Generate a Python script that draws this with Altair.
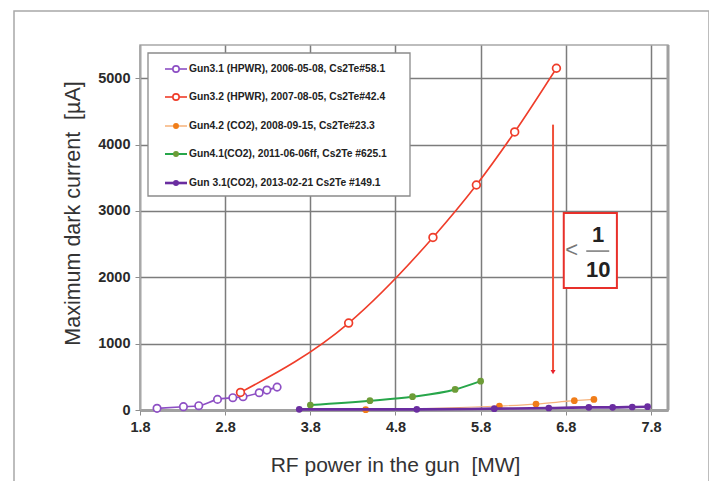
import altair as alt
import pandas as pd

# ---------------- data ----------------
labels = [
    "Gun3.1 (HPWR), 2006-05-08, Cs2Te#58.1",
    "Gun3.2 (HPWR), 2007-08-05, Cs2Te#42.4",
    "Gun4.2 (CO2), 2008-09-15, Cs2Te#23.3",
    "Gun4.1(CO2), 2011-06-06ff, Cs2Te #625.1",
    "Gun 3.1(CO2), 2013-02-21 Cs2Te #149.1",
]

x_g31_hpwr = [2.0, 2.31, 2.49, 2.71, 2.89, 3.01, 3.2, 3.29, 3.41]
y_g31_hpwr = [25, 50, 65, 160, 185, 200, 260, 300, 345]

x_g32_hpwr = [2.98, 4.25, 5.24, 5.75, 6.2, 6.69]
y_g32_hpwr = [265, 1310, 2600, 3390, 4190, 5150]

x_g42_co2 = [4.45, 6.02, 6.45, 6.9, 7.13]
y_g42_co2 = [5, 60, 90, 140, 160]

x_g41_co2 = [3.8, 4.5, 5.0, 5.5, 5.8]
y_g41_co2 = [75, 140, 200, 310, 435]

x_g31_co2 = [3.67, 5.05, 5.96, 6.6, 7.07, 7.35, 7.58, 7.76]
y_g31_co2 = [10, 10, 20, 30, 40, 40, 45, 50]

x_ticks = [1.8, 2.8, 3.8, 4.8, 5.8, 6.8, 7.8]
y_ticks = [0, 1000, 2000, 3000, 4000, 5000]

# annotation (data coordinates)
arrow_x = [6.65]
arrow_y = [4300]
arrow_y2 = [570]
box_x = [6.776]
box_x2 = [7.4]
box_y = [2967]
box_y2 = [1837]

# ---------------- styles ----------------
W, H = 528, 365
FONT = "Liberation Sans"
xs = alt.Scale(domain=[1.8, 8.0], nice=False, zero=False)
ys = alt.Scale(domain=[0, 5500], nice=False)

xaxis = alt.Axis(values=x_ticks, format=".1f", title="RF power in the gun\u00a0 [MW]",
                 grid=True, gridColor="#7c7c7c", gridWidth=1.5, gridOpacity=1,
                 domainColor="#a0a0a0", domainWidth=3, tickColor="#8c8c8c", tickSize=5,
                 labelFont=FONT, labelFontWeight="bold", labelFontSize=14.5, labelColor="#2a2a2a",
                 labelPadding=5, labelFlush=False,
                 titleFont=FONT, titleFontSize=21, titleFontWeight="normal", titleColor="#333",
                 titleX=255, titleY=55, titleBaseline="middle", titleAlign="center")
yaxis = alt.Axis(values=y_ticks, format="d", title="Maximum dark current\u00a0 [µA]",
                 grid=True, gridColor="#7c7c7c", gridWidth=1.5, gridOpacity=1,
                 domainColor="#a8a8a8", domainWidth=1.5, tickColor="#8c8c8c", tickSize=5,
                 labelFont=FONT, labelFontWeight="bold", labelFontSize=14.5, labelColor="#2a2a2a",
                 labelPadding=5, labelFlush=False,
                 titleFont=FONT, titleFontSize=21.5, titleFontWeight="normal", titleColor="#333",
                 titleAngle=270, titleX=-67, titleY=168, titleBaseline="middle", titleAlign="center")


def X(f="x"):
    return alt.X(f"{f}:Q", scale=xs, axis=xaxis)


def Y(f="y"):
    return alt.Y(f"{f}:Q", scale=ys, axis=yaxis)


styles = [
    # marker color, line color, open marker?, line width, marker size
    ("#8d4fc4", "#8d4fc4", True, 1.6, 55),
    ("#ef3d2a", "#ef3d2a", True, 1.6, 60),
    ("#f07d19", "#f6b27a", False, 1.2, 45),
    ("#6d9c37", "#27a64a", False, 2.0, 45),
    ("#6a2da0", "#6a2da0", False, 2.6, 45),
]
series_data = [
    (x_g31_hpwr, y_g31_hpwr),
    (x_g32_hpwr, y_g32_hpwr),
    (x_g42_co2, y_g42_co2),
    (x_g41_co2, y_g41_co2),
    (x_g31_co2, y_g31_co2),
]

layers = []

# outer frame
layers.append(alt.Chart().mark_rect(fillOpacity=0, stroke="#a8a8a8", strokeWidth=1.5).encode(
    x=alt.value(-126), x2=alt.value(569), y=alt.value(-34), y2=alt.value(470)))

for (xv, yv), (col, lcol, is_open, lw, sz) in zip(series_data, styles):
    df = pd.DataFrame({"x": xv, "y": yv})
    base = alt.Chart(df).encode(x=X(), y=Y())
    layers.append(base.mark_line(color=lcol, strokeWidth=lw, interpolate="monotone"))
    if is_open:
        layers.append(base.mark_point(shape="circle", size=sz, filled=True, fill="white",
                                      stroke=col, strokeWidth=1.7, opacity=1, fillOpacity=1))
    else:
        layers.append(base.mark_point(shape="circle", size=sz, filled=True, color=col, opacity=1))

# right plot border (thicker)
layers.append(alt.Chart().mark_rule(color="#a0a0a0", strokeWidth=3).encode(
    x=alt.value(W), y=alt.value(0), y2=alt.value(H)))

# arrow annotation
adf = pd.DataFrame({"x": arrow_x, "y": arrow_y, "y2": arrow_y2})
layers.append(alt.Chart(adf).mark_rule(color="#f0503a", strokeWidth=2).encode(
    x=X(), y=Y(), y2="y2:Q"))
layers.append(alt.Chart(adf).mark_point(shape="triangle-down", size=25, filled=True,
                                        color="#e8202a", opacity=1).encode(x=X(), y=Y("y2")))

# ratio box
bdf = pd.DataFrame({"x": box_x, "x2": box_x2, "y": box_y, "y2": box_y2})
layers.append(alt.Chart(bdf).mark_rect(fill="white", stroke="#e8302a", strokeWidth=2).encode(
    x=X(), x2="x2:Q", y=Y(), y2="y2:Q"))
tdf = pd.DataFrame({"x": [6.87, 7.18, 7.18], "y": [2410, 2640, 2105], "t": ["<", "1", "10"]})
layers.append(alt.Chart(tdf[tdf.t == "<"]).mark_text(font=FONT, fontSize=22, color="#777",
                                                    align="center", baseline="middle").encode(
    x=X(), y=Y(), text="t:N"))
layers.append(alt.Chart(tdf[tdf.t != "<"]).mark_text(font=FONT, fontSize=22, fontWeight="bold",
                                                    color="#222", align="center", baseline="middle").encode(
    x=X(), y=Y(), text="t:N"))
fdf = pd.DataFrame({"x": [7.04], "x2": [7.31], "y": [2395]})
layers.append(alt.Chart(fdf).mark_rule(color="#555", strokeWidth=1.2).encode(
    x=X(), x2="x2:Q", y=Y()))

# legend box
layers.append(alt.Chart().mark_rect(fill="white", stroke="#8a8a8a", strokeWidth=1.3).encode(
    x=alt.value(8), x2=alt.value(270), y=alt.value(8), y2=alt.value(151)))
row_y = [24, 52, 81, 109, 138]
for lab, ry, (col, lcol, is_open, lw, sz) in zip(labels, row_y, styles):
    layers.append(alt.Chart().mark_rule(color=lcol, strokeWidth=max(lw, 1.5)).encode(
        x=alt.value(25), x2=alt.value(47), y=alt.value(ry)))
    if is_open:
        layers.append(alt.Chart().mark_point(shape="circle", size=40, filled=True, fill="white",
                                             stroke=col, strokeWidth=1.6, opacity=1).encode(
            x=alt.value(36), y=alt.value(ry)))
    else:
        layers.append(alt.Chart().mark_point(shape="circle", size=35, filled=True, color=col,
                                             opacity=1).encode(x=alt.value(36), y=alt.value(ry)))
    layers.append(alt.Chart().mark_text(text=lab, font=FONT, fontSize=10.3, fontWeight="bold",
                                        color="#222", align="left", baseline="middle").encode(
        x=alt.value(49), y=alt.value(ry)))

chart = alt.layer(*layers).properties(
    width=W, height=H,
    padding={"left": 132, "top": 37, "right": 41, "bottom": 71},
    autosize=alt.AutoSizeParams(type="none"),
    background="white",
).configure_view(stroke="#a8a8a8", strokeWidth=1.5)

chart.save("out.html", embed_options={"renderer": "svg", "actions": False})
